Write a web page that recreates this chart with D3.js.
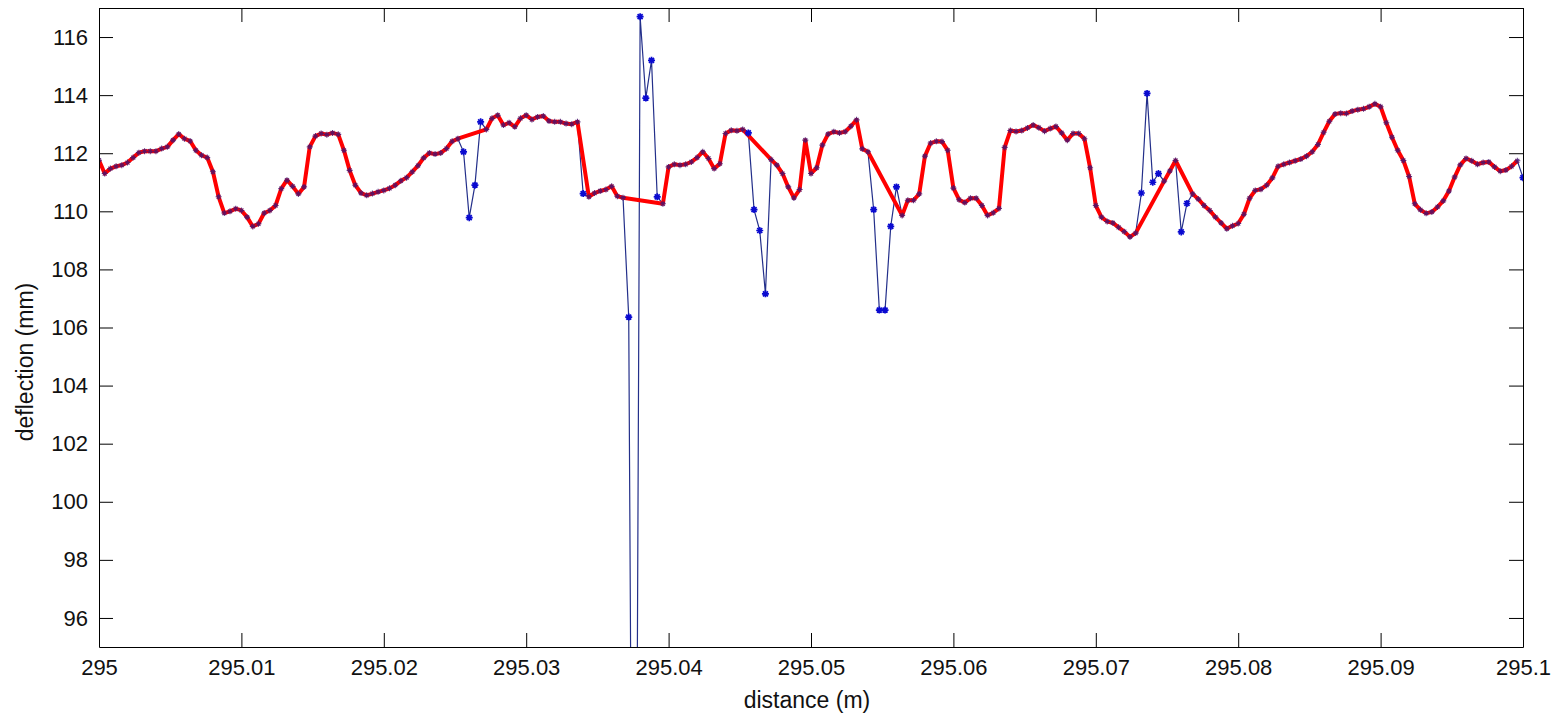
<!DOCTYPE html>
<html>
<head>
<meta charset="utf-8">
<script src="https://cdn.jsdelivr.net/npm/d3@7"></script>
<style>
  body { margin: 0; background: #fff; }
  svg { display: block; }
  .axis text { font-family: "Liberation Sans", Arial, sans-serif; font-size: 22px; fill: #111; }
  .axis line, .axis path { stroke: #000; stroke-width: 1; }
  .label { font-family: "Liberation Sans", Arial, sans-serif; font-size: 23px; fill: #111; }
</style>
</head>
<body>
<div id="chart"></div>
<script>
// sample positions along the track (m)
const distance = [
  295.0000,295.0004,295.0008,295.0012,295.0016,295.0020,295.0024,295.0028,295.0032,295.0036,
  295.0040,295.0044,295.0048,295.0052,295.0056,295.0060,295.0064,295.0068,295.0072,295.0076,
  295.0080,295.0084,295.0088,295.0092,295.0096,295.0100,295.0104,295.0108,295.0112,295.0116,
  295.0120,295.0124,295.0128,295.0132,295.0136,295.0140,295.0144,295.0148,295.0152,295.0156,
  295.0160,295.0164,295.0168,295.0172,295.0176,295.0180,295.0184,295.0188,295.0192,295.0196,
  295.0200,295.0204,295.0208,295.0212,295.0216,295.0220,295.0224,295.0228,295.0232,295.0236,
  295.0240,295.0244,295.0248,295.0252,295.0256,295.0260,295.0264,295.0268,295.0272,295.0276,
  295.0280,295.0284,295.0288,295.0292,295.0296,295.0300,295.0304,295.0308,295.0312,295.0316,
  295.0320,295.0324,295.0328,295.0332,295.0336,295.0340,295.0344,295.0348,295.0352,295.0356,
  295.0360,295.0364,295.0368,295.0372,295.0376,295.0380,295.0384,295.0388,295.0392,295.0396,
  295.0400,295.0404,295.0408,295.0412,295.0416,295.0420,295.0424,295.0428,295.0432,295.0436,
  295.0440,295.0444,295.0448,295.0452,295.0456,295.0460,295.0464,295.0468,295.0472,295.0476,
  295.0480,295.0484,295.0488,295.0492,295.0496,295.0500,295.0504,295.0508,295.0512,295.0516,
  295.0520,295.0524,295.0528,295.0532,295.0536,295.0540,295.0544,295.0548,295.0552,295.0556,
  295.0560,295.0564,295.0568,295.0572,295.0576,295.0580,295.0584,295.0588,295.0592,295.0596,
  295.0600,295.0604,295.0608,295.0612,295.0616,295.0620,295.0624,295.0628,295.0632,295.0636,
  295.0640,295.0644,295.0648,295.0652,295.0656,295.0660,295.0664,295.0668,295.0672,295.0676,
  295.0680,295.0684,295.0688,295.0692,295.0696,295.0700,295.0704,295.0708,295.0712,295.0716,
  295.0720,295.0724,295.0728,295.0732,295.0736,295.0740,295.0744,295.0748,295.0752,295.0756,
  295.0760,295.0764,295.0768,295.0772,295.0776,295.0780,295.0784,295.0788,295.0792,295.0796,
  295.0800,295.0804,295.0808,295.0812,295.0816,295.0820,295.0824,295.0828,295.0832,295.0836,
  295.0840,295.0844,295.0848,295.0852,295.0856,295.0860,295.0864,295.0868,295.0872,295.0876,
  295.0880,295.0884,295.0888,295.0892,295.0896,295.0900,295.0904,295.0908,295.0912,295.0916,
  295.0920,295.0924,295.0928,295.0932,295.0936,295.0940,295.0944,295.0948,295.0952,295.0956,
  295.0960,295.0964,295.0968,295.0972,295.0976,295.0980,295.0984,295.0988,295.0992,295.0996,
  295.1000
];

// raw measured deflection (mm), blue trace
const deflection = [
  111.76,111.30,111.47,111.55,111.59,111.68,111.85,112.02,112.07,112.07,
  112.07,112.16,112.22,112.45,112.66,112.50,112.42,112.10,111.93,111.85,
  111.36,110.50,109.94,110.00,110.09,110.03,109.80,109.48,109.57,109.94,
  110.03,110.20,110.78,111.07,110.86,110.60,110.84,112.22,112.59,112.68,
  112.64,112.70,112.65,112.10,111.41,110.90,110.63,110.55,110.61,110.67,
  110.72,110.79,110.90,111.05,111.16,111.36,111.57,111.84,112.01,111.97,
  112.01,112.16,112.41,112.50,112.05,109.78,110.90,113.08,112.82,113.20,
  113.31,112.97,113.05,112.91,113.20,113.31,113.16,113.25,113.28,113.11,
  113.08,113.08,113.02,113.00,113.08,110.61,110.50,110.63,110.70,110.75,
  110.86,110.52,110.47,106.36,71.40,116.70,113.90,115.20,110.50,110.26,
  111.53,111.62,111.59,111.62,111.70,111.85,112.05,111.82,111.47,111.64,
  112.68,112.79,112.77,112.82,112.70,110.06,109.34,107.16,111.78,111.59,
  111.30,110.84,110.46,110.75,112.45,111.30,111.50,112.28,112.66,112.74,
  112.70,112.74,112.93,113.15,112.15,112.05,110.06,106.60,106.60,109.48,
  110.84,109.86,110.38,110.38,110.60,111.90,112.35,112.41,112.40,112.10,
  110.80,110.40,110.30,110.45,110.45,110.20,109.86,109.95,110.10,112.20,
  112.78,112.75,112.78,112.87,112.97,112.88,112.76,112.85,112.92,112.70,
  112.45,112.68,112.68,112.50,111.50,110.20,109.80,109.65,109.60,109.45,
  109.30,109.12,109.25,110.63,114.06,111.00,111.30,111.04,111.39,111.75,
  109.29,110.27,110.60,110.42,110.20,110.03,109.80,109.60,109.40,109.50,
  109.58,109.90,110.45,110.72,110.76,110.90,111.15,111.55,111.62,111.68,
  111.74,111.80,111.90,112.05,112.30,112.72,113.10,113.35,113.38,113.37,
  113.45,113.50,113.53,113.60,113.70,113.60,113.05,112.55,112.10,111.75,
  111.20,110.26,110.05,109.93,109.98,110.15,110.36,110.70,111.18,111.60,
  111.82,111.74,111.62,111.68,111.70,111.53,111.38,111.42,111.55,111.74,
  111.16
];

// samples dropped from the cleaned (red) trace
const rejected = [64,65,66,67,85,93,94,95,96,97,98,114,115,116,117,
  136,137,138,139,140,183,184,185,186,190,191,250];

const xTicks = [295, 295.01, 295.02, 295.03, 295.04, 295.05, 295.06, 295.07, 295.08, 295.09, 295.1];
const xTickLabels = ["295", "295.01", "295.02", "295.03", "295.04", "295.05", "295.06", "295.07", "295.08", "295.09", "295.1"];
const yTicks = [96, 98, 100, 102, 104, 106, 108, 110, 112, 114, 116];

const W = 1557, H = 714;
const margin = { top: 8, right: 34, bottom: 67, left: 99 };
const width = W - margin.left - margin.right;
const height = H - margin.top - margin.bottom;
const tick = 14;

const svg = d3.select('#chart').append('svg')
  .attr('width', W)
  .attr('height', H);

svg.append('rect').attr('width', W).attr('height', H).attr('fill', '#fff');

const g = svg.append('g')
  .attr('transform', 'translate(' + margin.left + ',' + margin.top + ')');

const x = d3.scaleLinear().domain([295, 295.1]).range([0, width]);
const y = d3.scaleLinear().domain([95, 117]).range([height, 0]);

const points = distance.map((d, i) => ({ d: d, v: deflection[i], i: i }));
const skip = new Set(rejected);
const cleaned = points.filter(p => !skip.has(p.i));

g.append('clipPath').attr('id', 'plot-clip')
  .append('rect').attr('width', width).attr('height', height);

const plot = g.append('g').attr('clip-path', 'url(#plot-clip)');

const line = d3.line()
  .x(p => x(p.d))
  .y(p => y(p.v));

// raw trace, thin blue
plot.append('path')
  .datum(points)
  .attr('d', line)
  .attr('fill', 'none')
  .attr('stroke', '#232f8a')
  .attr('stroke-width', 1.2);

// cleaned trace, thick red
plot.append('path')
  .datum(cleaned)
  .attr('d', line)
  .attr('fill', 'none')
  .attr('stroke', '#ff0000')
  .attr('stroke-width', 4)
  .attr('stroke-linejoin', 'round');

// star markers on every raw sample
const star = 'M-3.5,0H3.5M0,-3.5V3.5M-2.5,-2.5L2.5,2.5M-2.5,2.5L2.5,-2.5';
const smallStar = 'M-3,0H3M0,-3V3M-2,-2L2,2M-2,2L2,-2';
plot.selectAll('.mark')
  .data(points)
  .enter().append('path')
  .attr('class', 'mark')
  .attr('transform', p => 'translate(' + x(p.d) + ',' + y(p.v) + ')')
  .attr('d', p => skip.has(p.i) ? star : smallStar)
  .attr('fill', 'none')
  .attr('stroke', p => skip.has(p.i) ? '#0a0ad0' : '#461470')
  .attr('stroke-opacity', p => skip.has(p.i) ? 1 : 0.85)
  .attr('stroke-width', p => skip.has(p.i) ? 1.7 : 1.1);

// axes, MATLAB style: box with inward ticks on all four sides
g.append('g')
  .attr('class', 'axis')
  .attr('transform', 'translate(0,' + height + ')')
  .call(d3.axisBottom(x).tickValues(xTicks).tickSizeInner(-tick).tickSizeOuter(0).tickPadding(12)
    .tickFormat((d, i) => xTickLabels[i]));

g.append('g')
  .attr('class', 'axis')
  .call(d3.axisTop(x).tickValues(xTicks).tickSizeInner(-tick).tickSizeOuter(0).tickFormat(''));

g.append('g')
  .attr('class', 'axis')
  .call(d3.axisLeft(y).tickValues(yTicks).tickSizeInner(-tick).tickSizeOuter(0).tickPadding(11));

g.append('g')
  .attr('class', 'axis')
  .attr('transform', 'translate(' + width + ',0)')
  .call(d3.axisRight(y).tickValues(yTicks).tickSizeInner(-tick).tickSizeOuter(0).tickFormat(''));

// axis labels
svg.append('text')
  .attr('class', 'label')
  .attr('x', 807)
  .attr('y', 708)
  .attr('text-anchor', 'middle')
  .text('distance (m)');

svg.append('text')
  .attr('class', 'label')
  .attr('transform', 'translate(33,362) rotate(-90)')
  .attr('text-anchor', 'middle')
  .text('deflection (mm)');
</script>
</body>
</html>
